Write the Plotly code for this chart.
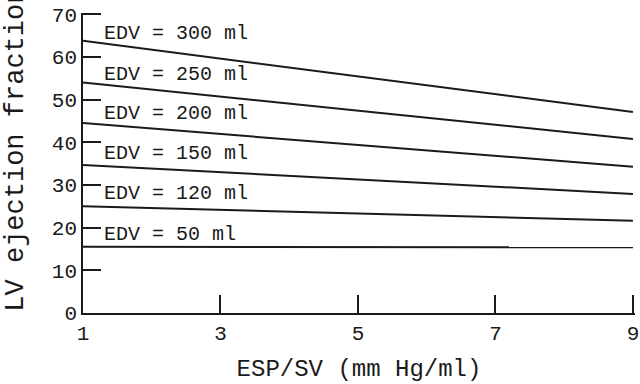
import plotly.graph_objects as go

esp_sv = [1, 9]
edv_labels = ["EDV = 300 ml", "EDV = 250 ml", "EDV = 200 ml", "EDV = 150 ml", "EDV = 120 ml", "EDV = 50 ml"]
ef_start = [63.8, 54.0, 44.5, 34.7, 25.0, 15.5]
ef_end = [47.1, 40.8, 34.3, 27.9, 21.6, 15.4]
label_y = [65.6, 56.0, 46.7, 37.3, 27.9, 18.3]
label_x = 1.28

x_ticks = [1, 3, 5, 7, 9]
y_ticks = [0, 10, 20, 30, 40, 50, 60, 70]

FONT = "Liberation Mono, Courier New, monospace"
INK = "#1a1a1a"

fig = go.Figure()
for name, a, b in zip(edv_labels, ef_start, ef_end):
    fig.add_trace(go.Scatter(x=esp_sv, y=[a, b], mode="lines", name=name,
                             line=dict(color=INK, width=2), showlegend=False,
                             hoverinfo="skip", cliponaxis=False))

for name, ly in zip(edv_labels, label_y):
    fig.add_annotation(x=label_x, y=ly, xref="x", yref="y", text=name,
                       showarrow=False, xanchor="left", yanchor="middle",
                       font=dict(family=FONT, size=20, color=INK))

# y-axis title (placed as annotation to match its offset)
fig.add_annotation(x=-0.123, y=38.3, xref="paper", yref="y",
                   text="LV ejection fraction", textangle=-90, showarrow=False,
                   xanchor="center", yanchor="middle",
                   font=dict(family=FONT, size=27, color=INK))

fig.update_layout(
    width=640, height=384,
    margin=dict(l=83, r=5, t=13, b=71, autoexpand=False),
    paper_bgcolor="white", plot_bgcolor="white",
    font=dict(family=FONT, size=20, color=INK),
    xaxis=dict(range=[1, 9.03], tickvals=x_ticks, ticktext=[str(v) for v in x_ticks],
               ticks="inside", ticklen=18, tickwidth=1.5, tickcolor=INK,
               showline=True, linecolor=INK, linewidth=1.5, showgrid=False,
               zeroline=False, tickfont=dict(family=FONT, size=21, color=INK),
               automargin=False, ticklabeloverflow="allow",
               title=dict(text="ESP/SV (mm Hg/ml)", standoff=14,
                          font=dict(family=FONT, size=24, color=INK))),
    yaxis=dict(range=[0, 70.3], tickvals=y_ticks, ticktext=[str(v) for v in y_ticks],
               ticks="inside", ticklen=18, tickwidth=1.5, tickcolor=INK,
               showline=True, linecolor=INK, linewidth=1.5, showgrid=False,
               zeroline=False, automargin=False, ticklabeloverflow="allow",
               tickfont=dict(family=FONT, size=21, color=INK)),
)

fig.write_html("out.html", config={"displayModeBar": False},
               post_script="document.body.style.margin='0';")
